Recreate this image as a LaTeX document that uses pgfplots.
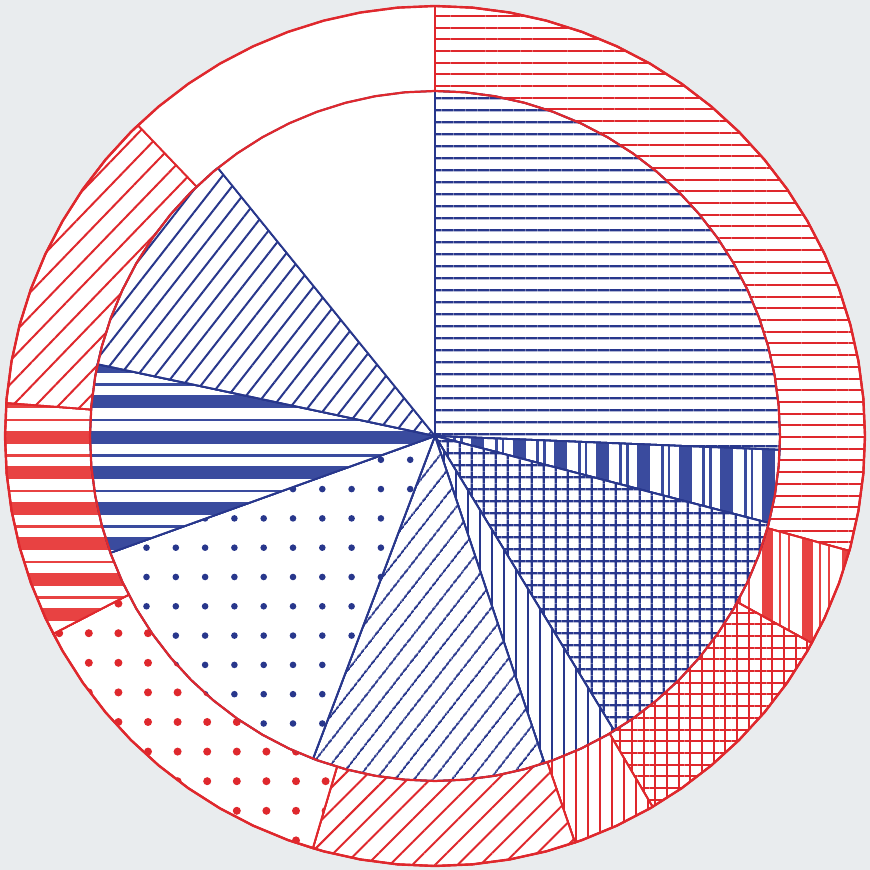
\documentclass[border=0pt]{standalone}
\usepackage{pgfplots}
\pgfplotsset{compat=1.18}
\usetikzlibrary{patterns.meta}

\definecolor{paper}{RGB}{233,236,238}
\definecolor{inkblue}{RGB}{40,55,140}
\definecolor{bandblue}{RGB}{58,75,158}
\definecolor{inkred}{RGB}{223,40,45}
\definecolor{bandred}{RGB}{232,66,66}

% thick band + thin line, horizontal (period 35.5)
\tikzdeclarepattern{
  name=bandsH, type=uncolored,
  bounding box={(-1bp,0bp) and (11bp,35.5bp)},
  tile size={(10bp,35.5bp)},
  code={
    \fill (-1bp,0bp) rectangle (11bp,13bp);
    \fill (-1bp,22.8bp) rectangle (11bp,25.3bp);
  }
}
% thick bar + two thin lines, vertical (blue, period 41.5)
\tikzdeclarepattern{
  name=bandsVb, type=uncolored,
  bounding box={(0bp,-1bp) and (41.5bp,11bp)},
  tile size={(41.5bp,10bp)},
  code={
    \fill (3.9bp,-1bp) rectangle (6.1bp,11bp);
    \fill (14.5bp,-1bp) rectangle (27.5bp,11bp);
    \fill (38.4bp,-1bp) rectangle (41.2bp,11bp);
  }
}
% thick bar + two thin lines, vertical (red, period 40)
\tikzdeclarepattern{
  name=bandsVr, type=uncolored,
  bounding box={(0bp,-1bp) and (40bp,11bp)},
  tile size={(40bp,10bp)},
  code={
    \fill (1.5bp,-1bp) rectangle (12.5bp,11bp);
    \fill (18.6bp,-1bp) rectangle (21.2bp,11bp);
    \fill (27.8bp,-1bp) rectangle (30.2bp,11bp);
  }
}

\pgfplotsset{
  wedge/.style={data cs=polar, mark=none, line width=1.8bp, line join=round, fill=white},
}

\begin{document}
\begin{tikzpicture}
\begin{axis}[
  width=870bp, height=870bp, scale only axis,
  xmin=-435, xmax=435, ymin=-434, ymax=436,
  axis line style={draw=none}, ticks=none,
  axis background/.style={fill=paper},
]

% ---- outer ring (red), sectors of radius 430
\addplot[wedge, draw=inkred, postaction={pattern={Lines[angle=0,distance=11.7bp,line width=2bp]}, pattern color=inkred}]
  coordinates {(0,0) (90,430) (85,430) (80,430) (75,430) (70,430) (65,430) (60,430) (55,430) (50,430) (45,430) (40,430) (35,430) (30,430) (25,430) (20,430) (15,430) (10,430) (5,430) (0,430) (-5,430) (-10,430) (-15,430) (-15.5,430)} -- cycle;
\addplot[wedge, draw=inkred, postaction={pattern=bandsVr, pattern color=bandred}]
  coordinates {(0,0) (-15.5,430) (-20,430) (-25,430) (-28.8,430)} -- cycle;
\addplot[wedge, draw=inkred, postaction={pattern={Hatch[angle=0,distance=11.7bp,line width=2bp]}, pattern color=inkred}]
  coordinates {(0,0) (-28.8,430) (-30,430) (-35,430) (-40,430) (-45,430) (-50,430) (-55,430) (-59.6,430)} -- cycle;
\addplot[wedge, draw=inkred, postaction={pattern={Lines[angle=90,distance=12bp,line width=2bp]}, pattern color=inkred}]
  coordinates {(0,0) (-59.6,430) (-60,430) (-65,430) (-70,430) (-71,430)} -- cycle;
\addplot[wedge, draw=inkred, postaction={pattern={Lines[angle=45,distance=16bp,line width=2bp]}, pattern color=inkred}]
  coordinates {(0,0) (-71,430) (-75,430) (-80,430) (-85,430) (-90,430) (-95,430) (-100,430) (-105,430) (-106.5,430)} -- cycle;
\addplot[wedge, draw=inkred, postaction={pattern={Dots[distance=29.6bp,radius=4bp]}, pattern color=inkred}]
  coordinates {(0,0) (-106.5,430) (-110,430) (-115,430) (-120,430) (-125,430) (-130,430) (-135,430) (-140,430) (-145,430) (-150,430) (-152.6,430)} -- cycle;
\addplot[wedge, draw=inkred, postaction={pattern=bandsH, pattern color=bandred}]
  coordinates {(0,0) (-152.6,430) (-155,430) (-160,430) (-165,430) (-170,430) (-175,430) (-180,430) (-184.4,430)} -- cycle;
\addplot[wedge, draw=inkred, postaction={pattern={Lines[angle=46,distance=16.5bp,line width=2bp]}, pattern color=inkred}]
  coordinates {(0,0) (-184.4,430) (-185,430) (-190,430) (-195,430) (-200,430) (-205,430) (-210,430) (-215,430) (-220,430) (-225,430) (-226.3,430)} -- cycle;
\addplot[wedge, draw=inkred]
  coordinates {(0,0) (-226.3,430) (-230,430) (-235,430) (-240,430) (-245,430) (-250,430) (-255,430) (-260,430) (-265,430) (-270,430)} -- cycle;

% ---- inner pie (blue), radius 345
\addplot[wedge, draw=inkblue, postaction={pattern={Lines[angle=0,distance=11.8bp,line width=2.2bp]}, pattern color=inkblue}]
  coordinates {(0,0) (90,345) (85,345) (80,345) (75,345) (70,345) (65,345) (60,345) (55,345) (50,345) (45,345) (40,345) (35,345) (30,345) (25,345) (20,345) (15,345) (10,345) (5,345) (0,345) (-2.3,345)} -- cycle;
\addplot[wedge, draw=inkblue, postaction={pattern=bandsVb, pattern color=bandblue}]
  coordinates {(0,0) (-2.3,345) (-5,345) (-10,345) (-14.6,345)} -- cycle;
\addplot[wedge, draw=inkblue, postaction={pattern={Hatch[angle=0,distance=11.8bp,line width=2.2bp]}, pattern color=inkblue}]
  coordinates {(0,0) (-14.6,345) (-15,345) (-20,345) (-25,345) (-30,345) (-35,345) (-40,345) (-45,345) (-50,345) (-55,345) (-58.7,345)} -- cycle;
\addplot[wedge, draw=inkblue, postaction={pattern={Lines[angle=90,distance=12bp,line width=2bp]}, pattern color=inkblue}]
  coordinates {(0,0) (-58.7,345) (-60,345) (-65,345) (-70,345) (-71.5,345)} -- cycle;
\addplot[wedge, draw=inkblue, postaction={pattern={Lines[angle=52,distance=15bp,line width=2bp]}, pattern color=inkblue}]
  coordinates {(0,0) (-71.5,345) (-75,345) (-80,345) (-85,345) (-90,345) (-95,345) (-100,345) (-105,345) (-110,345) (-110.7,345)} -- cycle;
\addplot[wedge, draw=inkblue, postaction={pattern={Dots[distance=29.3bp,radius=3.3bp]}, pattern color=inkblue}]
  coordinates {(0,0) (-110.7,345) (-115,345) (-120,345) (-125,345) (-130,345) (-135,345) (-140,345) (-145,345) (-150,345) (-155,345) (-160,345) (-160.2,345)} -- cycle;
\addplot[wedge, draw=inkblue, postaction={pattern=bandsH, pattern color=bandblue}]
  coordinates {(0,0) (-160.2,345) (-165,345) (-170,345) (-175,345) (-180,345) (-185,345) (-190,345) (-192,345)} -- cycle;
\addplot[wedge, draw=inkblue, postaction={pattern={Lines[angle=52,distance=14bp,line width=2bp]}, pattern color=inkblue}]
  coordinates {(0,0) (-192,345) (-195,345) (-200,345) (-205,345) (-210,345) (-215,345) (-220,345) (-225,345) (-230,345) (-231,345)} -- cycle;
\addplot[wedge, draw=inkblue]
  coordinates {(0,0) (-231,345) (-235,345) (-240,345) (-245,345) (-250,345) (-255,345) (-260,345) (-265,345) (-270,345)} -- cycle;

% ---- circle outlines
\addplot[data cs=polar, mark=none, draw=inkred, line width=2.2bp]
  coordinates {(0,345) (5,345) (10,345) (15,345) (20,345) (25,345) (30,345) (35,345) (40,345) (45,345) (50,345) (55,345) (60,345) (65,345) (70,345) (75,345) (80,345) (85,345) (90,345) (95,345) (100,345) (105,345) (110,345) (115,345) (120,345) (125,345) (130,345) (135,345) (140,345) (145,345) (150,345) (155,345) (160,345) (165,345) (170,345) (175,345) (180,345) (185,345) (190,345) (195,345) (200,345) (205,345) (210,345) (215,345) (220,345) (225,345) (230,345) (235,345) (240,345) (245,345) (250,345) (255,345) (260,345) (265,345) (270,345) (275,345) (280,345) (285,345) (290,345) (295,345) (300,345) (305,345) (310,345) (315,345) (320,345) (325,345) (330,345) (335,345) (340,345) (345,345) (350,345) (355,345)} -- cycle;
\addplot[data cs=polar, mark=none, draw=inkred, line width=2.4bp]
  coordinates {(0,430) (5,430) (10,430) (15,430) (20,430) (25,430) (30,430) (35,430) (40,430) (45,430) (50,430) (55,430) (60,430) (65,430) (70,430) (75,430) (80,430) (85,430) (90,430) (95,430) (100,430) (105,430) (110,430) (115,430) (120,430) (125,430) (130,430) (135,430) (140,430) (145,430) (150,430) (155,430) (160,430) (165,430) (170,430) (175,430) (180,430) (185,430) (190,430) (195,430) (200,430) (205,430) (210,430) (215,430) (220,430) (225,430) (230,430) (235,430) (240,430) (245,430) (250,430) (255,430) (260,430) (265,430) (270,430) (275,430) (280,430) (285,430) (290,430) (295,430) (300,430) (305,430) (310,430) (315,430) (320,430) (325,430) (330,430) (335,430) (340,430) (345,430) (350,430) (355,430)} -- cycle;

\end{axis}
\end{tikzpicture}
\end{document}
